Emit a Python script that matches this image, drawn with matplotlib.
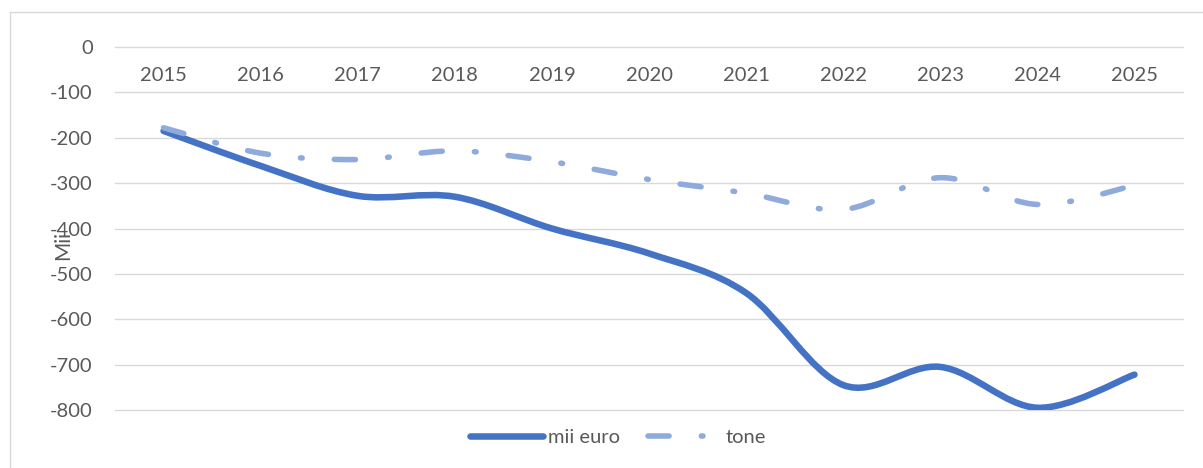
import matplotlib
matplotlib.use('Agg')
import matplotlib.pyplot as plt
from matplotlib.path import Path
from matplotlib.patches import PathPatch, Rectangle
from matplotlib.lines import Line2D

# Data
years = ['2015', '2016', '2017', '2018', '2019', '2020', '2021', '2022', '2023', '2024', '2025']
mii_euro = [-185, -262, -328, -330, -400, -455, -542, -745, -705, -795, -722]
tone = [-178, -234, -248, -229, -253, -292, -322, -358, -288, -347, -305]
yticks = [0, -100, -200, -300, -400, -500, -600, -700, -800]

blue = '#4472C4'
light = '#8FAADC'
grey_txt = '#595959'
grid_col = '#D9D9D9'
dash_dot = (0, (3.8, 5.8, 0.3, 5.8))

plt.rcParams['font.family'] = ['Lato', 'DejaVu Sans']


def smooth_path(ys):
    # Excel-like smoothed line: cubic bezier through each point
    pts = list(zip(range(len(ys)), ys))
    verts = [pts[0]]
    codes = [Path.MOVETO]
    n = len(pts)
    for i in range(n - 1):
        p0 = pts[i - 1] if i > 0 else pts[i]
        p1 = pts[i]
        p2 = pts[i + 1]
        p3 = pts[i + 2] if i + 2 < n else pts[i + 1]
        c1 = (p1[0] + (p2[0] - p0[0]) / 6, p1[1] + (p2[1] - p0[1]) / 6)
        c2 = (p2[0] - (p3[0] - p1[0]) / 6, p2[1] - (p3[1] - p1[1]) / 6)
        verts += [c1, c2, p2]
        codes += [Path.CURVE4] * 3
    return Path(verts, codes)


fig = plt.figure(figsize=(12.03, 4.68), dpi=100)
ax = fig.add_axes([0.0956, 0.1239, 0.8878, 0.7757])

# outer chart border
fig.patches.append(Rectangle((10 / 1203, -0.1), 1.2, 1 - 12 / 468 + 0.1,
                             transform=fig.transFigure, fill=False,
                             edgecolor=grid_col, linewidth=1.0))

ax.add_patch(PathPatch(smooth_path(mii_euro), fill=False, edgecolor=blue,
                       linewidth=4.7, capstyle='round', joinstyle='round', zorder=3))
ax.add_patch(PathPatch(smooth_path(tone), fill=False, edgecolor=light,
                       linewidth=4.0, capstyle='round', joinstyle='round',
                       linestyle=dash_dot, zorder=4))

ax.set_xlim(-0.5, len(years) - 0.5)
ax.set_ylim(-800, 0)
ax.set_yticks(yticks)
ax.set_yticklabels([str(v) for v in yticks])
ax.yaxis.grid(True, color=grid_col, linewidth=1.0)
for gl in ax.get_ygridlines():
    gl.set_clip_on(False)
ax.set_axisbelow(True)
for s in ax.spines.values():
    s.set_visible(False)
ax.tick_params(axis='y', length=0, pad=16, labelsize=14.5, labelcolor=grey_txt)

ax.set_xticks(range(len(years)))
ax.set_xticklabels(years)
ax.xaxis.set_ticks_position('top')
ax.tick_params(axis='x', length=0, top=False, bottom=False, labeltop=True,
               labelbottom=False, pad=-27, labelsize=14.5, labelcolor=grey_txt)

fig.text(63 / 1203, 1 - 245 / 468, 'Mii', rotation=90, ha='center', va='center',
         fontsize=15, color=grey_txt)

handles = [Line2D([], [], color=blue, linewidth=4.7, solid_capstyle='round'),
           Line2D([], [], color=light, linewidth=4.0, linestyle=dash_dot,
                  dash_capstyle='round')]
fig.legend(handles, ['mii euro', 'tone'], loc='center', ncol=2,
           bbox_to_anchor=(618 / 1203, 1 - 437 / 468), frameon=False,
           fontsize=14.5, labelcolor=grey_txt, handlelength=3.6,
           handletextpad=0.25, columnspacing=1.4)

fig.savefig('out.png', dpi=100)
